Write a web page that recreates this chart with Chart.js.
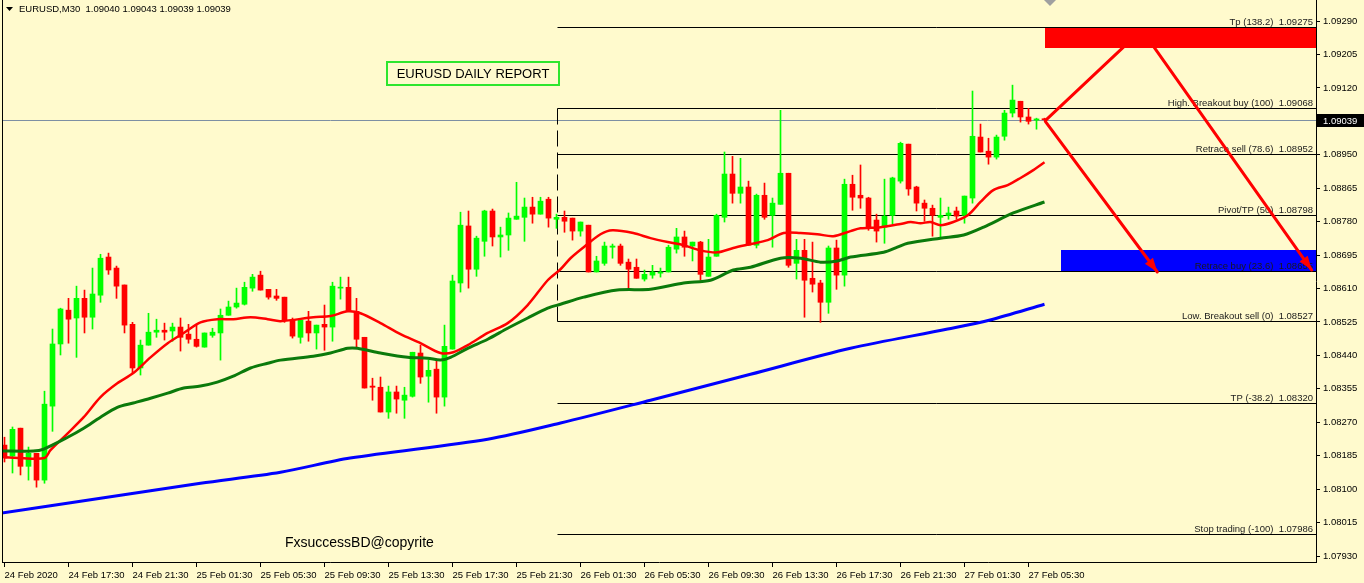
<!DOCTYPE html>
<html lang="en">
<head>
<meta charset="UTF-8">
<title>EURUSD M30</title>
<script src="https://cdn.jsdelivr.net/npm/chart.js@4.4.0/dist/chart.umd.min.js"></script>
<style>
    html, body { margin: 0; padding: 0; background: #fffacd; }
    #chart { display: block; }
</style>
</head>
<body>
<canvas id="chart" width="1364" height="583"></canvas>
<script>
// --- data (24 Feb 13:30 .. 27 Feb 06:30) ---
const symbol = 'EURUSD', timeframe = 'M30';

const opens = [1.08212,1.08184,1.08255,1.08158,1.08191,1.08123,1.08311,1.08469,1.08555,1.08535,
    1.08585,1.08537,1.08593,1.08690,1.08662,1.08619,1.08519,1.08408,1.08466,1.08499,
    1.08504,1.08502,1.08512,1.08494,1.08481,1.08461,1.08491,1.08497,1.08542,1.08563,
    1.08570,1.08611,1.08644,1.08608,1.08591,1.08588,1.08530,1.08486,1.08527,1.08497,
    1.08519,1.08512,1.08611,1.08613,1.08552,1.08486,1.08362,1.08359,1.08296,1.08347,
    1.08326,1.08336,1.08446,1.08387,1.08405,1.08334,1.08456,1.08624,1.08769,1.08659,
    1.08730,1.08807,1.08741,1.08746,1.08786,1.08791,1.08817,1.08799,1.08837,1.08786,
    1.08791,1.08789,1.08756,1.08771,1.08652,1.08674,1.08715,1.08718,1.08677,1.08664,
    1.08634,1.08644,1.08649,1.08652,1.08710,1.08741,1.08718,1.08728,1.08641,1.08692,
    1.08791,1.08901,1.08852,1.08868,1.08720,1.08847,1.08796,1.08824,1.08903,1.08674,
    1.08707,1.08636,1.08624,1.08575,1.08713,1.08644,1.08875,1.08847,1.08840,1.08784,
    1.08766,1.08796,1.08883,1.08977,1.08868,1.08827,1.08814,1.08791,1.08796,1.08807,
    1.08796,1.08840,1.08995,1.08959,1.08944,1.08997,1.09056,1.09086,1.09046,1.09038,
    1.09040];
const highs = [1.08232,1.08258,1.08255,1.08207,1.08191,1.08349,1.08507,1.08560,1.08585,1.08616,
    1.08606,1.08662,1.08697,1.08700,1.08667,1.08619,1.08524,1.08479,1.08547,1.08532,
    1.08522,1.08522,1.08535,1.08519,1.08519,1.08497,1.08509,1.08558,1.08578,1.08611,
    1.08626,1.08646,1.08654,1.08608,1.08608,1.08588,1.08535,1.08530,1.08552,1.08517,
    1.08568,1.08626,1.08639,1.08639,1.08585,1.08486,1.08382,1.08385,1.08362,1.08362,
    1.08359,1.08448,1.08466,1.08428,1.08428,1.08517,1.08644,1.08804,1.08807,1.08743,
    1.08809,1.08812,1.08766,1.08802,1.08880,1.08840,1.08842,1.08842,1.08842,1.08799,
    1.08807,1.08789,1.08779,1.08771,1.08692,1.08728,1.08723,1.08723,1.08685,1.08685,
    1.08657,1.08669,1.08662,1.08720,1.08763,1.08756,1.08728,1.08730,1.08735,1.08799,
    1.08957,1.08946,1.08941,1.08883,1.08850,1.08878,1.08840,1.09063,1.08903,1.08735,
    1.08735,1.08728,1.08631,1.08718,1.08733,1.08888,1.08898,1.08924,1.08842,1.08799,
    1.08888,1.08893,1.08982,1.08977,1.08870,1.08835,1.08822,1.08840,1.08817,1.08817,
    1.08845,1.09112,1.09028,1.08992,1.09000,1.09063,1.09127,1.09086,1.09068,1.09043,
    1.09043];
const lows = [1.08169,1.08141,1.08136,1.08123,1.08105,1.08115,1.08247,1.08441,1.08471,1.08435,
    1.08497,1.08507,1.08575,1.08646,1.08585,1.08497,1.08395,1.08390,1.08466,1.08486,
    1.08479,1.08476,1.08451,1.08471,1.08461,1.08461,1.08486,1.08428,1.08542,1.08560,
    1.08568,1.08603,1.08606,1.08583,1.08580,1.08524,1.08484,1.08471,1.08476,1.08456,
    1.08453,1.08476,1.08583,1.08552,1.08461,1.08357,1.08326,1.08296,1.08280,1.08293,
    1.08280,1.08334,1.08369,1.08321,1.08293,1.08311,1.08456,1.08601,1.08611,1.08641,
    1.08692,1.08718,1.08690,1.08707,1.08786,1.08730,1.08776,1.08799,1.08766,1.08763,
    1.08753,1.08733,1.08743,1.08652,1.08652,1.08669,1.08687,1.08669,1.08608,1.08636,
    1.08629,1.08636,1.08639,1.08652,1.08700,1.08692,1.08680,1.08631,1.08641,1.08692,
    1.08779,1.08827,1.08827,1.08720,1.08713,1.08786,1.08715,1.08824,1.08664,1.08634,
    1.08537,1.08601,1.08524,1.08547,1.08608,1.08616,1.08809,1.08814,1.08758,1.08728,
    1.08725,1.08774,1.08878,1.08847,1.08807,1.08781,1.08743,1.08741,1.08786,1.08786,
    1.08776,1.08827,1.08957,1.08926,1.08939,1.08987,1.09046,1.09033,1.09028,1.09015,
    1.09039];
const closes = [1.08179,1.08252,1.08158,1.08191,1.08123,1.08316,1.08469,1.08558,1.08532,1.08585,
    1.08537,1.08596,1.08687,1.08657,1.08616,1.08517,1.08408,1.08466,1.08499,1.08504,
    1.08499,1.08512,1.08486,1.08481,1.08463,1.08497,1.08499,1.08542,1.08563,1.08573,
    1.08613,1.08639,1.08606,1.08588,1.08585,1.08530,1.08489,1.08530,1.08497,1.08517,
    1.08512,1.08616,1.08613,1.08552,1.08481,1.08357,1.08359,1.08296,1.08347,1.08329,
    1.08339,1.08448,1.08385,1.08402,1.08334,1.08463,1.08629,1.08771,1.08659,1.08738,
    1.08807,1.08741,1.08746,1.08789,1.08794,1.08817,1.08799,1.08832,1.08789,1.08791,
    1.08781,1.08756,1.08779,1.08652,1.08680,1.08718,1.08718,1.08674,1.08659,1.08636,
    1.08646,1.08652,1.08652,1.08715,1.08741,1.08715,1.08728,1.08646,1.08690,1.08796,
    1.08901,1.08852,1.08868,1.08720,1.08847,1.08791,1.08827,1.08903,1.08669,1.08707,
    1.08631,1.08621,1.08575,1.08713,1.08644,1.08875,1.08842,1.08840,1.08766,1.08756,
    1.08794,1.08891,1.08979,1.08863,1.08827,1.08814,1.08796,1.08796,1.08802,1.08794,
    1.08845,1.08997,1.08957,1.08944,1.08995,1.09056,1.09089,1.09046,1.09035,1.09041,
    1.09039];

// moving averages, sampled along the bars (bar index, price)
const redIdx = [0,2,5,5.75,7.9,9.9,12,14.1,16.1,18.25,20.4,22.4,24.5,26.6,28.6,30.75,32.9,34.5,
    38.6,40.75,42.9,44.5,47,49.5,52,54.5,56.1,57.9,60.4,62.9,65.4,67.9,69.5,70.75,72.4,74.5,
    76,78.6,80.75,82.9,84.9,87,89.1,91.1,93.25,95.4,97.4,99.5,101.6,103.6,105.75,107,109.5,112,
    113.25,114.5,115.75,117,118.6,120.4,122,123.6,125.4,127,128.6,130];
const redMA = [1.08181,1.08179,1.08179,1.08199,1.08242,1.08283,1.08334,1.08369,1.08395,1.08435,1.08471,1.08497,
    1.08524,1.08532,1.08532,1.08537,1.08532,1.08527,1.08537,1.08540,1.08552,1.08547,1.08522,1.08494,
    1.08471,1.08446,1.08448,1.08466,1.08497,1.08522,1.08568,1.08631,1.08659,1.08687,1.08715,1.08748,
    1.08758,1.08751,1.08738,1.08728,1.08720,1.08707,1.08702,1.08713,1.08723,1.08733,1.08751,1.08751,
    1.08748,1.08743,1.08756,1.08763,1.08766,1.08774,1.08779,1.08776,1.08779,1.08771,1.08779,1.08796,
    1.08830,1.08860,1.08873,1.08891,1.08911,1.08931];
const greenIdx = [-0.5,3.6,4.9,7.9,9.9,12,14.1,16.1,18.25,20.4,22.4,24.5,26.6,28.6,30.75,32.9,34.5,38.6,
    40.75,42.9,44.1,47,50.4,52.9,54.5,55.75,57.9,60.4,62.9,65.4,67.9,69.5,72.4,76.6,80.75,84.9,
    88.25,91.1,93.25,97,99.5,102,104.1,105.75,109.9,111.6,112.9,117,119.9,122.4,126.1,130];
const greenMA = [1.08197,1.08197,1.08202,1.08232,1.08255,1.08283,1.08308,1.08319,1.08331,1.08344,1.08357,1.08362,
    1.08372,1.08387,1.08408,1.08420,1.08428,1.08438,1.08446,1.08458,1.08458,1.08446,1.08435,1.08433,
    1.08428,1.08435,1.08458,1.08481,1.08509,1.08535,1.08560,1.08570,1.08588,1.08606,1.08608,1.08624,
    1.08631,1.08657,1.08664,1.08687,1.08687,1.08677,1.08680,1.08690,1.08702,1.08715,1.08725,1.08738,
    1.08746,1.08766,1.08802,1.08830];
const blueIdx = [-0.5,12,24.5,34.5,43.2,60.4,69.5,80.75,93.25,105.75,117.9,123.2,130];
const blueMA = [1.08039,1.08077,1.08115,1.08143,1.08179,1.08227,1.08268,1.08326,1.08392,1.08458,1.08507,1.08530,1.08570];

// axes
const xTickIdx = [0,8,16,24,32,40,48,56,64,72,80,88,96,104,112,120,128];
const xTickLabels = ['24 Feb 2020','24 Feb 17:30','24 Feb 21:30','25 Feb 01:30','25 Feb 05:30','25 Feb 09:30',
    '25 Feb 13:30','25 Feb 17:30','25 Feb 21:30','26 Feb 01:30','26 Feb 05:30','26 Feb 09:30',
    '26 Feb 13:30','26 Feb 17:30','26 Feb 21:30','27 Feb 01:30','27 Feb 05:30'];
const yTicks = [1.07930,1.08015,1.08100,1.08185,1.08270,1.08355,1.08440,1.08525,1.08610,
    1.08695,1.08780,1.08865,1.08950,1.09120,1.09205,1.09290];

// fibonacci object anchored at bar 69
const fibBar = 69;
const fibNames = ['Tp (138.2)','High. Breakout buy (100)','Retrace sell (78.6)','Pivot/TP (50)',
    'Retrace buy (23.6)','Low. Breakout sell (0)','TP (-38.2)','Stop trading (-100)'];
const fibLevels = [1.09275,1.09068,1.08952,1.08798,1.08655,1.08527,1.08320,1.07986];

// drawn zones and arrows (bar index, price)
const sellZone = {fromBar: 130, top: 1.09273, bottom: 1.09222};
const buyZone = {fromBar: 132, top: 1.08709, bottom: 1.08655};
const arrowUp = [[130.1, 1.09037], [140, 1.09226]];
const arrowFar = [[143.6, 1.09226], [163.4, 1.08657]];
const arrowNear = [[130.1, 1.09035], [144.1, 1.08652]];

// ------------------------------------------------------------------
const bg = '#fffacd';
const FONT = "'Liberation Sans', Arial, sans-serif";
Chart.defaults.font.family = FONT;
Chart.defaults.font.size = 9.5;
Chart.defaults.color = '#000';

const n = closes.length;
const bars = closes.map((c, i) => i);
const candleColor = bars.map(i => closes[i] >= opens[i] ? '#00ff00' : '#ff0000');
const lastPrice = closes[n - 1];

const pts = (xs, ys) => xs.map((x, k) => ({x: x, y: ys[k]}));

const datasets = [
    {type: 'bar', data: bars.map(i => ({x: i, y: [lows[i], highs[i]]})), backgroundColor: candleColor,
        barThickness: 1, grouped: false, order: 3},
    {type: 'bar', data: bars.map(i => ({x: i, y: [opens[i], closes[i]]})), backgroundColor: candleColor,
        barThickness: 5, minBarLength: 1, grouped: false, order: 2},
    {type: 'line', data: pts(blueIdx, blueMA), borderColor: '#0000ff', borderWidth: 3, pointRadius: 0, tension: 0.3, order: 0},
    {type: 'line', data: pts(greenIdx, greenMA), borderColor: '#0b7a0b', borderWidth: 3, pointRadius: 0, tension: 0.3, order: 0},
    {type: 'line', data: pts(redIdx, redMA), borderColor: '#ff0000', borderWidth: 2.5, pointRadius: 0, tension: 0.3, order: 0}
];

function arrowLine(ctx, a, b, head) {
    ctx.beginPath();
    ctx.moveTo(a[0], a[1]);
    ctx.lineTo(b[0], b[1]);
    ctx.stroke();
    if (!head) return;
    const ang = Math.atan2(b[1] - a[1], b[0] - a[0]);
    ctx.beginPath();
    ctx.moveTo(b[0], b[1]);
    ctx.lineTo(b[0] - 14 * Math.cos(ang) + 5 * Math.sin(ang), b[1] - 14 * Math.sin(ang) - 5 * Math.cos(ang));
    ctx.lineTo(b[0] - 14 * Math.cos(ang) - 5 * Math.sin(ang), b[1] - 14 * Math.sin(ang) + 5 * Math.cos(ang));
    ctx.closePath();
    ctx.fill();
}

const mt4Plugin = {
    id: 'mt4',
    beforeDraw(chart) {
        const {ctx} = chart;
        ctx.save();
        ctx.fillStyle = bg;
        ctx.fillRect(0, 0, chart.width, chart.height);
        ctx.restore();
    },
    beforeDatasetsDraw(chart) {
        const {ctx, chartArea, scales: {x, y}} = chart;
        const Y = v => Math.round(y.getPixelForValue(v)) + 0.5;
        ctx.save();
        ctx.beginPath();
        ctx.rect(chartArea.left, chartArea.top, chartArea.right - chartArea.left, chartArea.bottom - chartArea.top);
        ctx.clip();
        // zones
        [[sellZone, '#ff0000'], [buyZone, '#0000ff']].forEach(([z, col]) => {
            const x0 = Math.round(x.getPixelForValue(z.fromBar));
            const y0 = Math.round(y.getPixelForValue(z.top)), y1 = Math.round(y.getPixelForValue(z.bottom));
            ctx.fillStyle = col;
            ctx.fillRect(x0, y0, chartArea.right - x0, y1 - y0);
        });
        // last price line
        ctx.lineWidth = 1;
        ctx.strokeStyle = '#7d8fa3';
        ctx.beginPath();
        ctx.moveTo(chartArea.left, Y(lastPrice));
        ctx.lineTo(chartArea.right, Y(lastPrice));
        ctx.stroke();
        // fibo levels
        const fx = Math.round(x.getPixelForValue(fibBar)) + 0.5;
        ctx.strokeStyle = '#000';
        fibLevels.forEach(v => {
            ctx.beginPath();
            ctx.moveTo(fx, Y(v));
            ctx.lineTo(chartArea.right, Y(v));
            ctx.stroke();
        });
        ctx.setLineDash([16, 6]);
        ctx.beginPath();
        ctx.moveTo(fx, Y(fibLevels[1]));
        ctx.lineTo(fx, Y(fibLevels[5]));
        ctx.stroke();
        ctx.restore();
    },
    afterDatasetsDraw(chart) {
        const {ctx, chartArea, scales: {x, y}} = chart;
        ctx.save();
        // fib labels
        ctx.font = '9.5px ' + FONT;
        ctx.fillStyle = '#1a1a1a';
        ctx.textAlign = 'right';
        ctx.textBaseline = 'alphabetic';
        fibLevels.forEach((v, k) => {
            ctx.fillText(fibNames[k] + '  ' + v.toFixed(5), chartArea.right - 3, Math.round(y.getPixelForValue(v)) - 2);
        });
        // arrows
        const P = p => [x.getPixelForValue(p[0]), y.getPixelForValue(p[1])];
        ctx.strokeStyle = '#ff0000';
        ctx.fillStyle = '#ff0000';
        ctx.lineWidth = 3;
        ctx.lineCap = 'round';
        arrowLine(ctx, P(arrowUp[0]), P(arrowUp[1]), false);
        arrowLine(ctx, P(arrowFar[0]), P(arrowFar[1]), true);
        arrowLine(ctx, P(arrowNear[0]), P(arrowNear[1]), true);
        ctx.restore();
    },
    afterDraw(chart) {
        const {ctx, chartArea, scales: {y}} = chart;
        ctx.save();
        // frame on the left
        ctx.strokeStyle = '#000';
        ctx.lineWidth = 1;
        ctx.beginPath();
        ctx.moveTo(chartArea.left + 0.5, 0);
        ctx.lineTo(chartArea.left + 0.5, chartArea.bottom);
        ctx.stroke();
        // header
        ctx.fillStyle = '#000';
        ctx.beginPath();
        ctx.moveTo(6, 7); ctx.lineTo(13, 7); ctx.lineTo(9.5, 11);
        ctx.closePath(); ctx.fill();
        ctx.font = '9.5px ' + FONT;
        ctx.textAlign = 'left';
        ctx.textBaseline = 'alphabetic';
        ctx.fillText(symbol + ',' + timeframe + '  ' + [opens[n - 1], highs[n - 1], lows[n - 1], closes[n - 1]]
            .map(v => v.toFixed(5)).join(' '), 19, 12);
        // shift marker
        ctx.fillStyle = '#a0a0a0';
        ctx.beginPath();
        ctx.moveTo(1044, 0); ctx.lineTo(1056, 0); ctx.lineTo(1050, 6);
        ctx.closePath(); ctx.fill();
        // report label
        ctx.strokeStyle = '#2ee62e';
        ctx.lineWidth = 2;
        ctx.strokeRect(387, 62, 172, 23);
        ctx.fillStyle = '#000';
        ctx.font = '13px "Liberation Sans", Arial, sans-serif';
        ctx.textAlign = 'center';
        ctx.textBaseline = 'middle';
        ctx.fillText('EURUSD DAILY REPORT', 473, 74);
        ctx.font = '14px "Liberation Sans", Arial, sans-serif';
        ctx.textAlign = 'left';
        ctx.textBaseline = 'alphabetic';
        ctx.fillText('FxsuccessBD@copyrite', 285, 547);
        // last price tag
        const py = Math.round(y.getPixelForValue(lastPrice));
        ctx.fillStyle = '#000';
        ctx.fillRect(chartArea.right + 1, py - 6, chart.width - chartArea.right - 1, 13);
        ctx.fillStyle = '#fff';
        ctx.font = '9.5px ' + FONT;
        ctx.textBaseline = 'middle';
        ctx.fillText(lastPrice.toFixed(5), chartArea.right + 7, py + 1);
        ctx.restore();
    }
};

const xMin = -0.3125;
new Chart(document.getElementById('chart'), {
    type: 'bar',
    data: {datasets: datasets},
    options: {
        responsive: false,
        animation: false,
        devicePixelRatio: 1,
        layout: {padding: {left: 2, top: 0, right: 0, bottom: 0}},
        scales: {
            x: {
                type: 'linear', position: 'bottom', offset: false,
                min: xMin, max: xMin + 1314 / 8,
                afterBuildTicks: s => { s.ticks = xTickIdx.map(v => ({value: v})); },
                afterFit: s => { s.height = 21; s.paddingLeft = 0; s.paddingRight = 0; },
                grid: {drawOnChartArea: false, drawTicks: true, tickLength: 5, color: '#000', offset: false},
                border: {display: true, color: '#000', width: 1},
                ticks: {autoSkip: false, maxRotation: 0, align: 'start', padding: 3,
                    callback: (v, i) => xTickLabels[i]}
            },
            y: {
                type: 'linear', position: 'right',
                min: 1.079148, max: 1.093434,
                afterBuildTicks: s => { s.ticks = yTicks.map(v => ({value: v})); },
                afterFit: s => { s.width = 48; s.paddingTop = 0; s.paddingBottom = 0; },
                grid: {drawOnChartArea: false, drawTicks: true, tickLength: 4, color: '#000'},
                border: {display: true, color: '#000', width: 1},
                ticks: {padding: 3, callback: v => v.toFixed(5)}
            }
        },
        plugins: {legend: {display: false}, tooltip: {enabled: false}}
    },
    plugins: [mt4Plugin]
});
</script>
</body>
</html>
